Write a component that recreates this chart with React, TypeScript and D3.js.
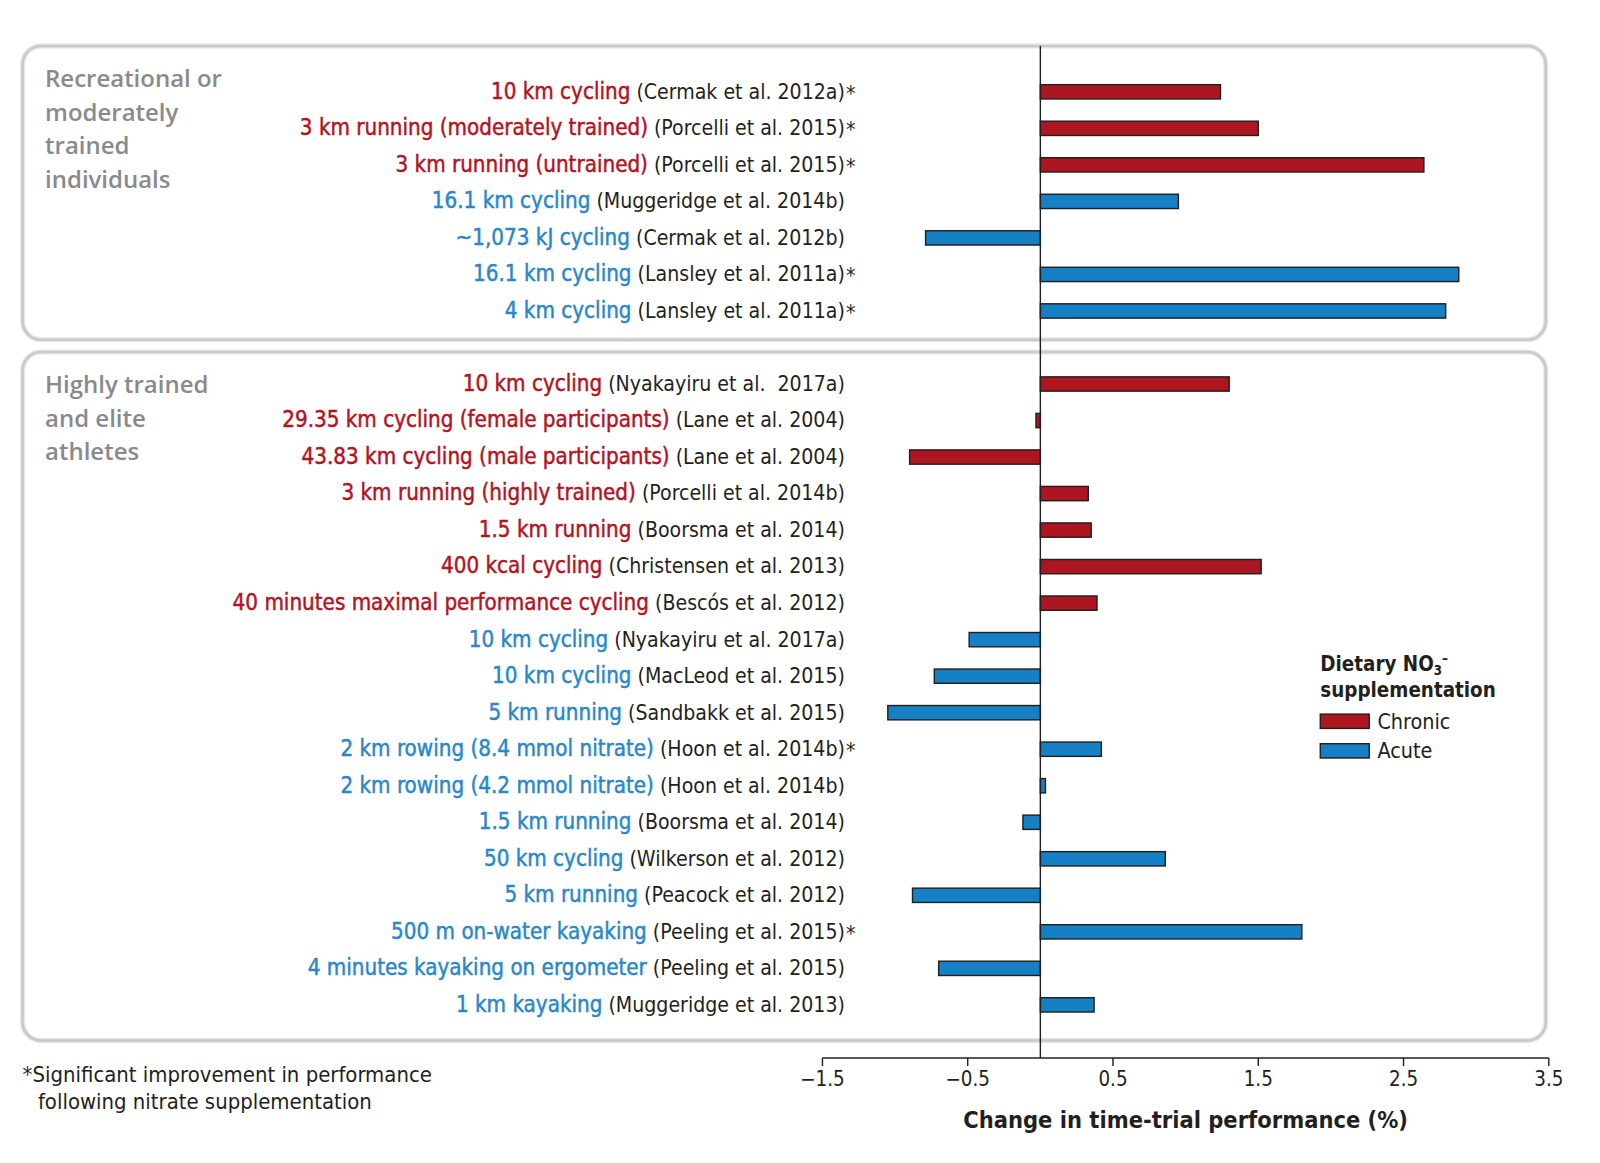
import { useEffect } from 'react';
import * as d3 from 'd3';

// layout is in the reference's visual units, svg scales it to 1600x1163
const VIEW_W = 1568;
const VIEW_H = 1140;

const groups = [
  ['Recreational or', 'moderately', 'trained', 'individuals'],
  ['Highly trained', 'and elite', 'athletes'],
];

const activities = [
  '10 km cycling',
  '3 km running (moderately trained)',
  '3 km running (untrained)',
  '16.1 km cycling',
  '~1,073 kJ cycling',
  '16.1 km cycling',
  '4 km cycling',
  '10 km cycling',
  '29.35 km cycling (female participants)',
  '43.83 km cycling (male participants)',
  '3 km running (highly trained)',
  '1.5 km running',
  '400 kcal cycling',
  '40 minutes maximal performance cycling',
  '10 km cycling',
  '10 km cycling',
  '5 km running',
  '2 km rowing (8.4 mmol nitrate)',
  '2 km rowing (4.2 mmol nitrate)',
  '1.5 km running',
  '50 km cycling',
  '5 km running',
  '500 m on-water kayaking',
  '4 minutes kayaking on ergometer',
  '1 km kayaking',
];

const studies = [
  '(Cermak et al. 2012a)',
  '(Porcelli et al. 2015)',
  '(Porcelli et al. 2015)',
  '(Muggeridge et al. 2014b)',
  '(Cermak et al. 2012b)',
  '(Lansley et al. 2011a)',
  '(Lansley et al. 2011a)',
  '(Nyakayiru et al.  2017a)',
  '(Lane et al. 2004)',
  '(Lane et al. 2004)',
  '(Porcelli et al. 2014b)',
  '(Boorsma et al. 2014)',
  '(Christensen et al. 2013)',
  '(Bescós et al. 2012)',
  '(Nyakayiru et al. 2017a)',
  '(MacLeod et al. 2015)',
  '(Sandbakk et al. 2015)',
  '(Hoon et al. 2014b)',
  '(Hoon et al. 2014b)',
  '(Boorsma et al. 2014)',
  '(Wilkerson et al. 2012)',
  '(Peacock et al. 2012)',
  '(Peeling et al. 2015)',
  '(Peeling et al. 2015)',
  '(Muggeridge et al. 2013)',
];

// change in time-trial performance (%)
const changes = [
  1.24, 1.5, 2.64, 0.95, -0.79, 2.88, 2.79,
  1.3, -0.03, -0.9, 0.33, 0.35, 1.52, 0.39,
  -0.49, -0.73, -1.05, 0.42, 0.035, -0.12, 0.86, -0.88, 1.8, -0.7, 0.37,
];

const supplementation = [
  'Chronic', 'Chronic', 'Chronic', 'Acute', 'Acute', 'Acute', 'Acute',
  'Chronic', 'Chronic', 'Chronic', 'Chronic', 'Chronic', 'Chronic', 'Chronic',
  'Acute', 'Acute', 'Acute', 'Acute', 'Acute', 'Acute', 'Acute', 'Acute', 'Acute', 'Acute', 'Acute',
];

const significant = [
  true, true, true, false, false, true, true,
  false, false, false, false, false, false, false,
  false, false, false, true, false, false, false, false, true, false, false,
];

const groupOf = [0, 0, 0, 0, 0, 0, 0, 1, 1, 1, 1, 1, 1, 1, 1, 1, 1, 1, 1, 1, 1, 1, 1, 1, 1];

const xTicks = [-1.5, -0.5, 0.5, 1.5, 2.5, 3.5];
const legendKeys = ['Chronic', 'Acute'];

const BAR_FILL: Record<string, string> = { Chronic: '#ad1520', Acute: '#1580c4' };
const TEXT_FILL: Record<string, string> = { Chronic: '#b3141f', Acute: '#2a87c9' };
const INK = '#231f20';
const FONT = '"Liberation Sans Narrow", "DejaVu Sans Condensed", "Roboto", sans-serif';

const LABEL_X = 828;
const PANELS = [
  { x: 22, y: 45, w: 1493, h: 288 },
  { x: 22, y: 345, w: 1493, h: 675 },
];
const AXIS_Y = 1037;

export default function App() {
  useEffect(() => {
    document.body.style.margin = '0';
  }, []);

  const x = d3.scaleLinear().domain([-1.5, 3.5]).range([806, 1518]);

  // one blank slot between the two panels
  const slot = changes.map((_, i) => (groupOf[i] === 0 ? i : i + 1));
  const y = d3
    .scalePoint<number>()
    .domain(d3.range(changes.length + 1))
    .range([90, 985]);

  const barH = 14;
  const x0 = x(0);

  return (
    <svg
      width={1600}
      height={1163}
      viewBox={`0 0 ${VIEW_W} ${VIEW_H}`}
      style={{ display: 'block', background: '#fff', fontFamily: FONT }}
    >
      {/* group panels */}
      {PANELS.map((p, i) => (
        <g key={i}>
          <rect x={p.x} y={p.y} width={p.w} height={p.h} rx={18} fill="none" stroke="#e6e6e6" strokeWidth={5} />
          <rect x={p.x} y={p.y} width={p.w} height={p.h} rx={18} fill="none" stroke="#c9c9c9" strokeWidth={2.5} />
        </g>
      ))}

      {/* group titles */}
      {groups.map((lines, gi) => (
        <text
          key={gi}
          x={44}
          y={PANELS[gi].y + 32}
          fill="#8a8a8a"
          fontSize={23.5}
          fontWeight={600}
          fontFamily='"Open Sans", "Noto Sans", sans-serif'
        >
          {lines.map((l, li) => (
            <tspan key={li} x={44} dy={li === 0 ? '0.35em' : 33}>
              {l}
            </tspan>
          ))}
        </text>
      ))}

      {/* bars */}
      {changes.map((v, i) => {
        const cy = y(slot[i])!;
        return (
          <rect
            key={i}
            x={Math.min(x(v), x0)}
            y={cy - barH / 2}
            width={Math.abs(x(v) - x0)}
            height={barH}
            fill={BAR_FILL[supplementation[i]]}
            stroke={INK}
            strokeWidth={1.4}
          />
        );
      })}

      {/* zero line */}
      <line x1={x0} x2={x0} y1={PANELS[0].y} y2={AXIS_Y} stroke={INK} strokeWidth={1.4} />

      {/* row labels */}
      {changes.map((_, i) => {
        const cy = y(slot[i])!;
        const c = TEXT_FILL[supplementation[i]];
        return (
          <g key={i}>
            <text x={LABEL_X} y={cy} dy="0.42em" textAnchor="end" style={{ whiteSpace: 'pre' }}>
              <tspan fill={c} stroke={c} strokeWidth={0.45} fontSize={21.8}>
                {activities[i]}
              </tspan>
              <tspan fill={INK} fontSize={20.7}>
                {' ' + studies[i]}
              </tspan>
            </text>
            {significant[i] && (
              <text x={LABEL_X + 1} y={cy} dy="0.42em" fill={INK} fontSize={20.7}>
                *
              </text>
            )}
          </g>
        );
      })}

      {/* x axis */}
      <g>
        <line x1={x(-1.5)} x2={x(3.5)} y1={AXIS_Y} y2={AXIS_Y} stroke={INK} strokeWidth={1.4} />
        {xTicks.map((t) => (
          <g key={t} transform={`translate(${x(t)},${AXIS_Y})`}>
            <line y1={0} y2={8} stroke={INK} strokeWidth={1.4} />
            <text y={21} dy="0.35em" textAnchor="middle" fontSize={20} fill={INK}>
              {d3.format('.1f')(t)}
            </text>
          </g>
        ))}
        <text
          x={(x(-1.5) + x(3.5)) / 2}
          y={1098}
          dy="0.35em"
          textAnchor="middle"
          fontSize={23}
          fontWeight={700}
          fill={INK}
        >
          Change in time-trial performance (%)
        </text>
      </g>

      {/* legend */}
      <g transform="translate(1294,651)" fill={INK}>
        <text y={0} dy="0.35em" fontSize={20} fontWeight={700}>
          Dietary NO
          <tspan fontSize={13} dy={4}>3</tspan>
          <tspan fontSize={13} dy={-12}>–</tspan>
        </text>
        <text y={25} dy="0.35em" fontSize={20} fontWeight={700}>
          supplementation
        </text>
        {legendKeys.map((k, i) => (
          <g key={k} transform={`translate(0,${56 + i * 29})`}>
            <rect x={0} y={-7} width={48} height={14} fill={BAR_FILL[k]} stroke={INK} strokeWidth={1.4} />
            <text x={56} dy="0.35em" fontSize={21}>
              {k}
            </text>
          </g>
        ))}
      </g>

      {/* footnote */}
      <text x={22} y={1053} dy="0.35em" fontSize={21.5} fill={INK}>
        *Significant improvement in performance
      </text>
      <text x={37} y={1080} dy="0.35em" fontSize={21.5} fill={INK}>
        following nitrate supplementation
      </text>
    </svg>
  );
}
